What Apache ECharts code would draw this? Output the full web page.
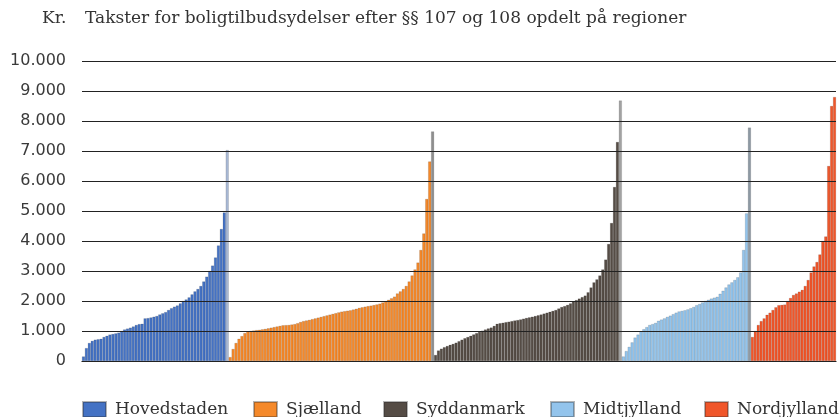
<!DOCTYPE html>
<html>
<head>
<meta charset="utf-8">
<script src="https://cdn.jsdelivr.net/npm/echarts@6/dist/echarts.min.js"></script>
<style>
  html, body { margin: 0; padding: 0; background: #fff; }
  #chart { width: 839px; height: 417px; }
</style>
</head>
<body>
<div id="chart"></div>
<script>
// Takster pr. region, sorteret stigende (kr.)
const hovedstaden = [150, 430, 600, 670, 710, 725, 740, 800, 840, 880, 900, 920, 945, 1000, 1050, 1080, 1110, 1150, 1200, 1230,
  1240, 1420, 1430, 1450, 1475, 1500, 1550, 1590, 1630, 1700, 1760, 1810, 1850, 1920, 2000, 2050, 2120, 2220, 2320, 2400,
  2500, 2650, 2810, 3000, 3180, 3450, 3850, 4400, 4950, 7030];
const sjaelland = [130, 400, 600, 740, 830, 930, 990, 1000, 1015, 1030, 1040, 1055, 1070, 1090, 1110, 1130, 1150, 1170, 1190, 1195,
  1200, 1215, 1230, 1260, 1300, 1330, 1350, 1370, 1395, 1420, 1445, 1470, 1495, 1520, 1545, 1570, 1595, 1620, 1644, 1660,
  1675, 1690, 1715, 1740, 1770, 1790, 1810, 1830, 1845, 1865, 1885, 1910, 1950, 1990, 2040, 2090, 2145, 2250, 2320, 2400,
  2500, 2650, 2850, 3050, 3280, 3700, 4250, 5400, 6650, 7650];
const syddanmark = [200, 350, 410, 460, 500, 540, 570, 610, 660, 710, 760, 800, 840, 885, 930, 970, 1010, 1050, 1085, 1115,
  1170, 1240, 1260, 1275, 1295, 1310, 1330, 1350, 1365, 1385, 1410, 1435, 1455, 1475, 1500, 1525, 1550, 1580, 1610, 1640,
  1670, 1700, 1750, 1800, 1830, 1870, 1920, 1975, 2030, 2080, 2130, 2180, 2290, 2450, 2620, 2720, 2850, 3050, 3380, 3900,
  4600, 5800, 7300, 8680];
const midtjylland = [150, 330, 470, 620, 780, 880, 990, 1060, 1130, 1200, 1230, 1270, 1340, 1380, 1420, 1470, 1510, 1560, 1610, 1650,
  1670, 1690, 1720, 1760, 1800, 1860, 1900, 1950, 2000, 2040, 2080, 2110, 2140, 2240, 2340, 2450, 2550, 2620, 2700, 2790,
  2950, 3700, 4920, 7780];
const nordjylland = [800, 1000, 1200, 1330, 1420, 1540, 1610, 1700, 1790, 1860, 1870, 1880, 2000, 2100, 2200, 2250, 2310, 2370, 2500, 2700,
  2950, 3150, 3300, 3550, 4000, 4150, 6500, 8500, 8800];

const regions = ['Hovedstaden', 'Sjælland', 'Syddanmark', 'Midtjylland', 'Nordjylland'];
const colors = ['#4472c4', '#f5892a', '#554c45', '#93c4ec', '#f0562a'];
const spikeColors = ['#a8b8d4', '#8e8e8e', '#a2a2a2', '#8d99a3', '#f58a70'];
const yTicks = [0, 1000, 2000, 3000, 4000, 5000, 6000, 7000, 8000, 9000, 10000];
const legendLeft = [82, 253, 383, 550, 704];

const allData = [hovedstaden, sjaelland, syddanmark, midtjylland, nordjylland];
const total = allData.reduce((s, a) => s + a.length, 0);
const cats = [];
for (let i = 0; i < total; i++) cats.push(String(i));

let offset = 0;
const series = allData.map((arr, k) => {
  const d = new Array(total).fill('-');
  arr.forEach((v, i) => {
    d[offset + i] = (i === arr.length - 1 && k < 4)
      ? { value: v, itemStyle: { color: spikeColors[k] } }
      : v;
  });
  offset += arr.length;
  return {
    name: regions[k],
    type: 'bar',
    data: d,
    barGap: '-100%',
    barCategoryGap: '0%',
    itemStyle: { color: colors[k], borderColor: 'rgba(40,40,40,0.35)', borderWidth: 0.4 },
    animation: false
  };
});

const fmt = v => v === 0 ? '0' : String(v).replace(/\B(?=(\d{3})+(?!\d))/g, '.');

const legends = regions.map((r, k) => ({
  data: [r],
  left: legendLeft[k],
  top: 401,
  padding: 0,
  itemWidth: 23,
  itemHeight: 15,
  itemGap: 0,
  icon: 'rect',
  textStyle: { fontFamily: 'DejaVu Serif', fontSize: 17, color: '#333', padding: [0, 0, 0, 4] }
}));

const titleStyle = { fontFamily: 'DejaVu Serif', fontWeight: 'normal', fontSize: 17, color: '#333' };

const chart = echarts.init(document.getElementById('chart'));
chart.setOption({
  animation: false,
  title: [
    { text: 'Kr.', left: 42, top: 10, padding: 0, textStyle: titleStyle },
    { text: 'Takster for boligtilbudsydelser efter §§ 107 og 108 opdelt på regioner', left: 85, top: 10, padding: 0,
      textStyle: titleStyle }
  ],
  legend: legends,
  grid: { left: 82, right: 3, top: 61, bottom: 56, containLabel: false },
  xAxis: {
    type: 'category',
    data: cats,
    axisLine: { lineStyle: { color: '#111', width: 1.2 } },
    axisTick: { show: false },
    axisLabel: { show: false }
  },
  yAxis: {
    type: 'value',
    min: 0,
    max: 10000,
    interval: 1000,
    z: 5,
    axisLine: { show: false },
    axisTick: { show: false },
    axisLabel: {
      formatter: v => fmt(v),
      margin: 16,
      fontFamily: 'DejaVu Sans',
      fontSize: 16,
      color: '#3a3a3a',
      customValues: yTicks
    },
    splitLine: { lineStyle: { color: '#222', width: 1.2 } }
  },
  series: series
});
</script>
</body>
</html>
